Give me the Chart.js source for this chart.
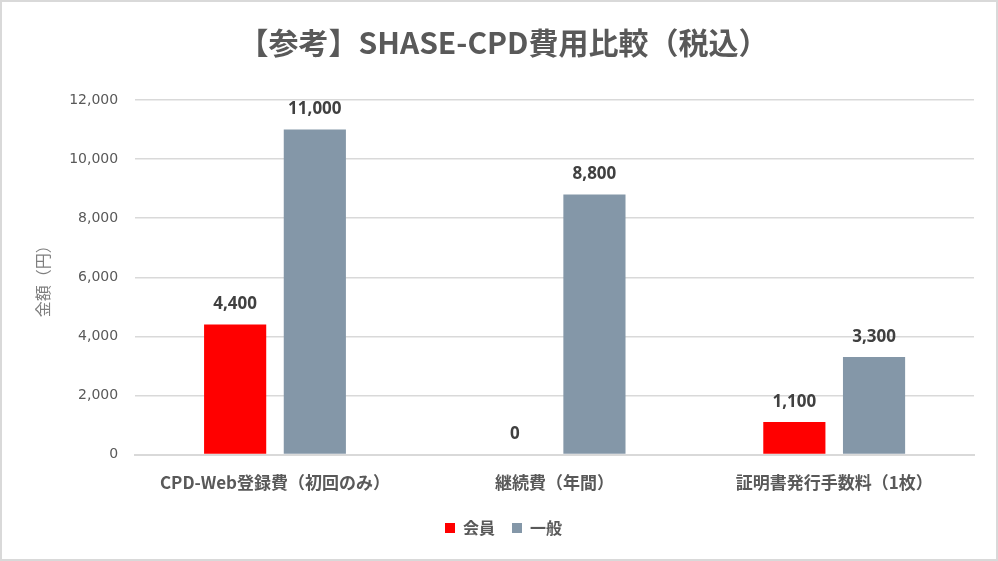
<!DOCTYPE html>
<html><head><meta charset="utf-8">
<script src="https://cdn.jsdelivr.net/npm/chart.js@4"></script>
<style>
html,body{margin:0;padding:0;background:#fff;}
#wrap{position:absolute;left:0;top:0;width:994px;height:557px;border:2px solid #d9d9d9;background:#fff;}
</style></head><body>
<div id="wrap"><canvas id="c" width="994" height="557"></canvas></div>
<script>
const categories = ["CPD-Web登録費（初回のみ）", "継続費（年間）", "証明書発行手数料（1枚）"];
const memberValues = [4400, 0, 1100];
const generalValues = [11000, 8800, 3300];
const seriesNames = ["会員", "一般"];
const yTicks = [0, 2000, 4000, 6000, 8000, 10000, 12000];

const FONT = "'Noto Sans CJK JP', 'Noto Sans', sans-serif";

const labelPlugin = {
  id: 'barLabels',
  afterDatasetsDraw(chart) {
    const ctx = chart.ctx;
    ctx.save();
    ctx.font = "bold 17px 'Noto Sans', " + FONT;
    ctx.fillStyle = '#404040';
    ctx.textAlign = 'center';
    ctx.textBaseline = 'middle';
    chart.data.datasets.forEach((ds, i) => {
      const meta = chart.getDatasetMeta(i);
      meta.data.forEach((bar, j) => {
        const v = ds.data[j];
        ctx.fillText(v.toLocaleString('en-US'), bar.x, bar.y - 20);
      });
    });
    ctx.restore();
  }
};

new Chart(document.getElementById('c'), {
  type: 'bar',
  data: {
    labels: categories,
    datasets: [
      { label: seriesNames[0], data: memberValues, backgroundColor: '#ff0000' },
      { label: seriesNames[1], data: generalValues, backgroundColor: '#8497a8' }
    ]
  },
  options: {
    responsive: false,
    animation: false,
    categoryPercentage: 0.57,
    barPercentage: 0.78,
    layout: { padding: { left: 31, right: 22, top: 10, bottom: 13 } },
    plugins: {
      title: {
        display: true,
        text: '【参考】SHASE-CPD費用比較（税込）',
        color: '#595959',
        font: { family: FONT, size: 30, weight: 'bold' },
        padding: { top: 13, bottom: 39 }
      },
      legend: {
        position: 'bottom',
        labels: {
          color: '#595959',
          font: { family: FONT, size: 16, weight: 'bold' },
          boxWidth: 10, boxHeight: 10, padding: 17
        }
      },
      tooltip: { enabled: false }
    },
    scales: {
      x: {
        grid: { display: false },
        border: { color: '#d9d9d9', width: 2 },
        ticks: { color: '#595959', font: { family: FONT, size: 17, weight: 'bold' }, padding: 10 }
      },
      y: {
        min: 0, max: 12000,
        afterBuildTicks(axis) { axis.ticks = yTicks.map(v => ({ value: v })); },
        grid: { color: '#d9d9d9', lineWidth: 1.5, drawTicks: false },
        border: { display: false },
        ticks: {
          color: '#595959', padding: 17,
          font: { family: "'DejaVu Sans', sans-serif", size: 14 },
          callback: v => v.toLocaleString('en-US')
        },
        title: {
          display: true, text: '金額（円）', color: '#7f7f7f',
          font: { family: FONT, size: 16 }, padding: { top: 0, bottom: 0 }
        }
      }
    }
  },
  plugins: [labelPlugin]
});
</script>
</body></html>
